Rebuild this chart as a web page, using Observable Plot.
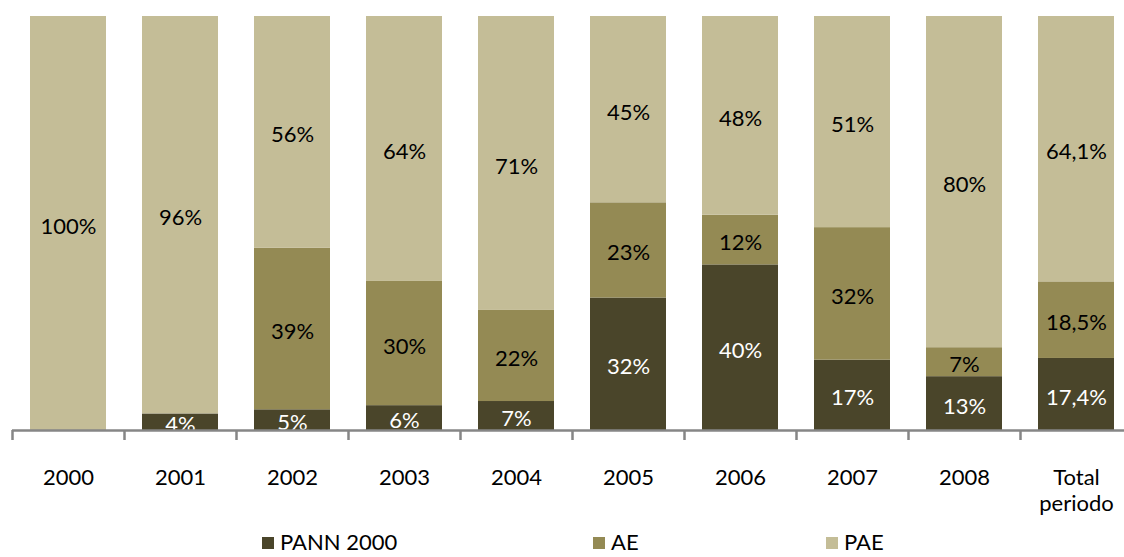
<!DOCTYPE html>
<html>
<head>
<meta charset="utf-8">
<script src="https://cdn.jsdelivr.net/npm/d3@7"></script>
<script src="https://cdn.jsdelivr.net/npm/@observablehq/plot@0.6"></script>
<style>
  body { margin: 0; background: #fff; font-family: Lato, "Open Sans", sans-serif; }
  #wrap { position: relative; width: 1124px; height: 557px; overflow: hidden; }
  .leg { position: absolute; top: 533px; font-size: 22px; line-height: 17px; color: #000; white-space: nowrap; }
  .leg i { display: inline-block; width: 12px; height: 12px; margin-right: 6px; vertical-align: 1px; }
</style>
</head>
<body>
<div id="wrap"></div>
<script>
const categories = ["2000","2001","2002","2003","2004","2005","2006","2007","2008","Total periodo"];
const tickLabels = ["2000","2001","2002","2003","2004","2005","2006","2007","2008","Total\nperiodo"];
const seriesNames = ["PANN 2000","AE","PAE"];
const seriesColors = ["#4A452A","#948A54","#C4BD97"];
const labelColors = ["#ffffff","#000000","#000000"];
const pann = [0, 4, 5, 6, 7, 32, 40, 17, 13, 17.4];
const ae   = [0, 0, 39, 30, 22, 23, 12, 32, 7, 18.5];
const pae  = [100, 96, 56, 64, 71, 45, 48, 51, 80, 64.1];

const seriesValues = [pann, ae, pae];
const data = [];
seriesNames.forEach((s, si) => {
  categories.forEach((c, ci) => {
    data.push({cat: c, series: s, value: seriesValues[si][ci], si});
  });
});
const fmt = v => (Number.isInteger(v) ? String(v) : String(v).replace(".", ",")) + "%";

const chart = Plot.plot({
  width: 1124,
  height: 520,
  marginLeft: 12,
  marginRight: 0,
  marginTop: 16,
  marginBottom: 90,
  style: {fontFamily: "Lato, 'Open Sans', sans-serif", background: "#fff"},
  x: {domain: categories, range: [12, 1132], paddingInner: 0.32, paddingOuter: 0.16, axis: null, label: null},
  y: {domain: [0, 100], axis: null, label: null},
  color: {domain: seriesNames, range: seriesColors},
  marks: [
    Plot.barY(data, Plot.stackY({x: "cat", y: "value", fill: "series", order: seriesNames})),
    Plot.text(data.filter(d => d.value > 0), Plot.stackY({
      x: "cat", y: "value", z: "series", order: seriesNames,
      text: d => fmt(d.value),
      fill: d => labelColors[d.si],
      fontSize: 22, dy: 3, clip: true
    })),
    Plot.ruleY([0], {stroke: "#868686", strokeWidth: 2.5}),
    Plot.axisX({tickSize: 10, dx: -56, stroke: "#868686", strokeWidth: 2.5, text: null, label: null}),
    Plot.axisX({
      tickSize: 0, tickPadding: 37, fontSize: 22, fill: "#000", lineHeight: 1.15, label: null,
      tickFormat: d => tickLabels[categories.indexOf(d)]
    })
  ]
});

const wrap = document.getElementById("wrap");
wrap.appendChild(chart);
const legendX = [262, 593, 826];
seriesNames.forEach((s, i) => {
  const el = document.createElement("div");
  el.className = "leg";
  el.style.left = legendX[i] + "px";
  el.innerHTML = `<i style="background:${seriesColors[i]}"></i>${s}`;
  wrap.appendChild(el);
});
</script>
</body>
</html>
